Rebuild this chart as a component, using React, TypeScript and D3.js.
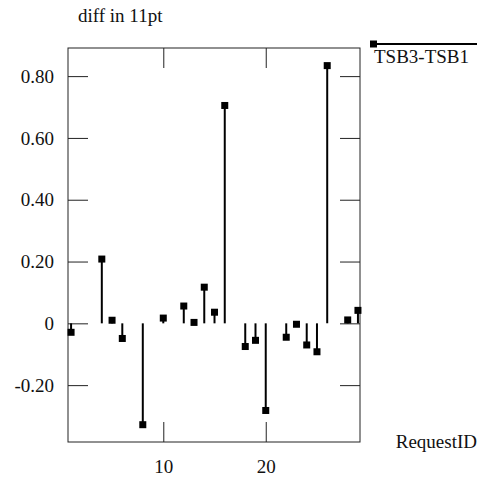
import { useEffect, useRef } from "react"
import * as d3 from "d3"

// request ids that have a value, and the TSB3-TSB1 diff for each
const requestIds = [1, 4, 5, 6, 8, 10, 12, 13, 14, 15, 16, 18, 19, 20, 22, 23, 24, 25, 26, 28, 29]
const diffs = [-0.029, 0.208, 0.01, -0.049, -0.328, 0.017, 0.056, 0.003, 0.117, 0.036, 0.705, -0.075, -0.055, -0.282, -0.045, -0.003, -0.07, -0.092, 0.834, 0.011, 0.042]
const xTicks = [10, 20]
const yTicks = [-0.2, 0, 0.2, 0.4, 0.6, 0.8]
const seriesName = "TSB3-TSB1"

const App = () => {
  const svgRef = useRef<SVGSVGElement>(null)

  useEffect(() => {
    const svg = d3.select(svgRef.current)
    svg.selectAll("*").remove()

    const font = "'Liberation Serif', 'DejaVu Serif', serif"
    const left = 68, right = 360, top = 48, bottom = 442

    const x = d3.scaleLinear().domain([0.7, 29.2]).range([left, right])
    const y = d3.scaleLinear().domain([-0.384, 0.891]).range([bottom, top])

    const data = requestIds.map((id, i) => ({ id, v: diffs[i] }))
    const fmt = (d: number) => (d === 0 ? "0" : d.toFixed(2))

    // axes with inward ticks
    const styleAxis = (g: any, labels: boolean) => {
      g.attr("font-family", font).attr("font-size", 19)
      g.select(".domain").remove()
      g.selectAll("line").attr("stroke", "#222").attr("stroke-width", 1)
      g.selectAll("text").attr("fill", "#111")
      if (!labels) g.selectAll("text").remove()
    }

    svg.append("g")
      .attr("transform", `translate(${left},0)`)
      .call(d3.axisLeft(y).tickValues(yTicks).tickSize(-20).tickPadding(14).tickFormat(fmt as any))
      .call((g) => styleAxis(g, true))

    svg.append("g")
      .attr("transform", `translate(${right},0)`)
      .call(d3.axisRight(y).tickValues(yTicks).tickSize(-20))
      .call((g) => styleAxis(g, false))

    svg.append("g")
      .attr("transform", `translate(0,${bottom})`)
      .call(d3.axisBottom(x).tickValues(xTicks).tickSize(-20).tickPadding(18).tickFormat(d3.format("d") as any))
      .call((g) => styleAxis(g, true))

    svg.append("g")
      .attr("transform", `translate(0,${top})`)
      .call(d3.axisTop(x).tickValues(xTicks).tickSize(-20))
      .call((g) => styleAxis(g, false))

    // frame
    svg.append("rect")
      .attr("x", left)
      .attr("y", top)
      .attr("width", right - left)
      .attr("height", bottom - top)
      .attr("fill", "none")
      .attr("stroke", "#222")
      .attr("stroke-width", 1)

    // impulses
    svg.append("g")
      .selectAll("line")
      .data(data)
      .join("line")
      .attr("x1", (d) => x(d.id))
      .attr("x2", (d) => x(d.id))
      .attr("y1", y(0))
      .attr("y2", (d) => y(d.v))
      .attr("stroke", "#000")
      .attr("stroke-width", 2)

    // points
    svg.append("g")
      .selectAll("rect")
      .data(data)
      .join("rect")
      .attr("x", (d) => x(d.id) - 3.5)
      .attr("y", (d) => y(d.v) - 3.5)
      .attr("width", 7)
      .attr("height", 7)
      .attr("fill", "#000")

    const label = (sel: any) =>
      sel.attr("font-family", font).attr("font-size", 19).attr("fill", "#111")

    // title
    svg.append("text")
      .attr("x", 78)
      .attr("y", 22)
      .call(label)
      .text("diff in 11pt")

    // x label
    svg.append("text")
      .attr("x", 477)
      .attr("y", 448)
      .attr("text-anchor", "end")
      .call(label)
      .text("RequestID")

    // legend
    const legend = svg.append("g")
    legend.append("line")
      .attr("x1", 373)
      .attr("x2", 477)
      .attr("y1", 44)
      .attr("y2", 44)
      .attr("stroke", "#000")
      .attr("stroke-width", 2)
    legend.append("rect")
      .attr("x", 370)
      .attr("y", 40.5)
      .attr("width", 7)
      .attr("height", 7)
      .attr("fill", "#000")
    legend.append("text")
      .attr("x", 374)
      .attr("y", 63)
      .call(label)
      .text(seriesName)
  }, [])

  return (
    <svg
      ref={svgRef}
      width={488}
      height={479}
      style={{ position: "absolute", left: 0, top: 0, background: "#fff" }}
    />
  )
}

export default App
